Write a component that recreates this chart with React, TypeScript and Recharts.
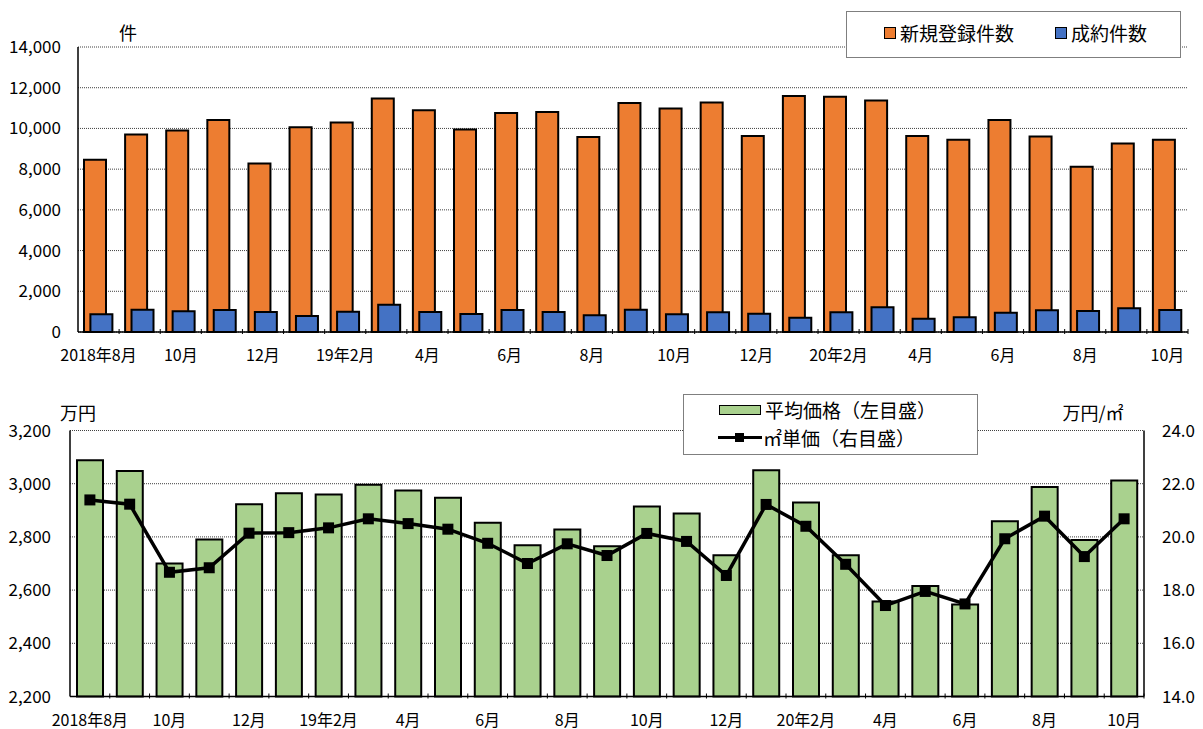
import { BarChart, Bar, ComposedChart, Line, XAxis, YAxis, CartesianGrid, Legend } from 'recharts';

const FONT = '"Noto Sans CJK JP", "Noto Sans", sans-serif';

const months = [
  '2018年8月', '9月', '10月', '11月', '12月', '19年1月', '19年2月', '3月', '4月', '5月', '6月', '7月', '8月',
  '9月', '10月', '11月', '12月', '20年1月', '20年2月', '3月', '4月', '5月', '6月', '7月', '8月', '9月', '10月',
];

// 新規登録件数
const newListings = [
  8456, 9699, 9895, 10418, 8276, 10058, 10287, 11465, 10893, 9944, 10762, 10811, 9584,
  11246, 10984, 11279, 9623, 11590, 11557, 11377, 9623, 9443, 10410, 9607, 8115, 9262, 9443,
];

// 成約件数
const contracts = [
  867, 1096, 1014, 1079, 981, 785, 998, 1341, 981, 883, 1079, 981, 818,
  1096, 867, 965, 900, 703, 965, 1210, 654, 720, 949, 1063, 1030, 1161, 1079,
];

// 平均価格（万円）
const avgPrice = [
  3088, 3048, 2700, 2790, 2923, 2964, 2959, 2996, 2974, 2947, 2853, 2769, 2828,
  2765, 2914, 2888, 2731, 3051, 2929, 2731, 2557, 2615, 2546, 2859, 2988, 2788, 3012,
];

// ㎡単価（万円/㎡）
const unitPrice = [
  21.39, 21.23, 18.67, 18.84, 20.14, 20.16, 20.34, 20.68, 20.5, 20.29, 19.76, 19.0, 19.74,
  19.3, 20.13, 19.83, 18.55, 21.22, 20.4, 18.97, 17.42, 17.95, 17.48, 19.93, 20.78, 19.26, 20.68,
];

const countTicks = [0, 2000, 4000, 6000, 8000, 10000, 12000, 14000];
const priceTicks = [2200, 2400, 2600, 2800, 3000, 3200];
const unitTicks = [14, 16, 18, 20, 22, 24];

const countData = months.map((m, i) => ({ month: m, newListings: newListings[i], contracts: contracts[i] }));
const priceData = months.map((m, i) => ({ month: m, avgPrice: avgPrice[i], unitPrice: unitPrice[i] }));

const ORANGE = '#ED7D31';
const BLUE = '#4472C4';
const GREEN = '#A9D18E';

function MonthTick(props: any) {
  const { x, y, payload, index, band, dy } = props;
  return (
    <g>
      <line x1={x + band / 2} x2={x + band / 2} y1={y - 5} y2={y} stroke="#000" strokeWidth={1} />
      {index % 2 === 0 && (
        <text x={x} y={y + dy} textAnchor="middle" fontSize={16} fontFamily={FONT} fill="#000">
          {payload.value}
        </text>
      )}
    </g>
  );
}

function AxisTitle(props: any) {
  const { tx, ty, text } = props;
  return (
    <text x={tx} y={ty} textAnchor="middle" fontSize={18} fontFamily={FONT} fill="#000">
      {text}
    </text>
  );
}

function SquareDot(props: any) {
  const { cx, cy, index } = props;
  if (cx == null || cy == null) return null;
  return <rect key={index} x={cx - 5.5} y={cy - 5.5} width={11} height={11} fill="#000" />;
}

const swatch = (left: number, top: number, w: number, h: number, color: string) => (
  <span
    style={{
      position: 'absolute', left, top, width: w, height: h, background: color,
      border: '1.5px solid #000', boxSizing: 'border-box',
    }}
  />
);

const legendText = (left: number, top: number, text: string) => (
  <span style={{ position: 'absolute', left, top, lineHeight: '26px', whiteSpace: 'nowrap' }}>{text}</span>
);

function CountLegend() {
  return (
    <div
      style={{
        position: 'relative', width: 335, height: 47, border: '1.5px solid #7f7f7f', background: '#fff',
        boxSizing: 'border-box', fontFamily: FONT, fontSize: 19, color: '#000',
      }}
    >
      {swatch(37, 15, 12, 12, ORANGE)}
      {legendText(53, 8, '新規登録件数')}
      {swatch(208, 15, 12, 12, BLUE)}
      {legendText(224, 8, '成約件数')}
    </div>
  );
}

function PriceLegend() {
  return (
    <div
      style={{
        position: 'relative', width: 295, height: 61, border: '1.5px solid #7f7f7f', background: '#fff',
        boxSizing: 'border-box', fontFamily: FONT, fontSize: 19, color: '#000',
      }}
    >
      {swatch(35, 10, 42, 10, GREEN)}
      {legendText(81, 2, '平均価格（左目盛）')}
      <span style={{ position: 'absolute', left: 34, top: 40.5, width: 44, height: 3.5, background: '#000' }} />
      <span style={{ position: 'absolute', left: 51, top: 38, width: 9, height: 9, background: '#000' }} />
      {legendText(79, 30, '㎡単価（右目盛）')}
    </div>
  );
}

export default function App() {
  const topBand = (1188 - 78) / months.length;
  const bottomBand = (1144 - 70) / months.length;
  return (
    <div style={{ position: 'absolute', left: 0, top: 0, width: 1203, height: 729, background: '#fff' }}>
      <div style={{ position: 'absolute', left: 0, top: 0 }}>
        <BarChart
          width={1203}
          height={365}
          data={countData}
          margin={{ top: 47, right: 15, left: 0, bottom: 0 }}
          barSize={22}
          barGap={-15.6}
        >
          <CartesianGrid vertical={false} stroke="#404040" strokeDasharray="1 1" />
          <XAxis
            dataKey="month"
            height={33}
            interval={0}
            tickSize={0}
            tickLine={false}
            axisLine={{ stroke: '#000', strokeWidth: 1.5 }}
            tick={<MonthTick band={topBand} dy={26.5} />}
          />
          <YAxis
            width={78}
            domain={[0, 14000]}
            ticks={countTicks}
            tickSize={0}
            tickMargin={17}
            tickLine={false}
            axisLine={{ stroke: '#000', strokeWidth: 1.5 }}
            tick={{ fontSize: 17, fill: '#000', fontFamily: FONT }}
            tickFormatter={(v: number) => v.toLocaleString('en-US')}
            label={<AxisTitle tx={128} ty={40} text="件" />}
          />
          <Legend
            layout="horizontal"
            verticalAlign="middle"
            align="center"
            content={() => <CountLegend />}
            wrapperStyle={{ left: 846, top: 11, width: 335, height: 47 }}
          />
          <Bar dataKey="newListings" name="新規登録件数" fill={ORANGE} stroke="#000" strokeWidth={2} isAnimationActive={false} />
          <Bar dataKey="contracts" name="成約件数" fill={BLUE} stroke="#000" strokeWidth={2} isAnimationActive={false} />
        </BarChart>
      </div>
      <div style={{ position: 'absolute', left: 0, top: 380 }}>
        <ComposedChart
          width={1203}
          height={349}
          data={priceData}
          margin={{ top: 50.5, right: 0, left: 0, bottom: 0 }}
          barSize={26}
        >
          <CartesianGrid vertical={false} yAxisId="left" stroke="#404040" strokeDasharray="1 1" />
          <XAxis
            dataKey="month"
            height={32.5}
            interval={0}
            tickSize={0}
            tickLine={false}
            axisLine={{ stroke: '#000', strokeWidth: 1.5 }}
            tick={<MonthTick band={bottomBand} dy={27} />}
          />
          <YAxis
            yAxisId="left"
            width={70}
            domain={[2200, 3200]}
            ticks={priceTicks}
            tickSize={0}
            tickMargin={19}
            tickLine={false}
            axisLine={{ stroke: '#000', strokeWidth: 1.5 }}
            tick={{ fontSize: 17, fill: '#000', fontFamily: FONT }}
            tickFormatter={(v: number) => v.toLocaleString('en-US')}
            label={<AxisTitle tx={78} ty={40} text="万円" />}
          />
          <YAxis
            yAxisId="right"
            orientation="right"
            width={59}
            domain={[14, 24]}
            ticks={unitTicks}
            tickSize={0}
            tickMargin={18}
            tickLine={false}
            axisLine={{ stroke: '#000', strokeWidth: 1.5 }}
            tick={{ fontSize: 17, fill: '#000', fontFamily: FONT }}
            tickFormatter={(v: number) => v.toFixed(1)}
            label={<AxisTitle tx={1093} ty={40} text="万円/㎡" />}
          />
          <Legend
            layout="horizontal"
            verticalAlign="middle"
            align="center"
            content={() => <PriceLegend />}
            wrapperStyle={{ left: 683, top: 14, width: 295, height: 61 }}
          />
          <Bar
            yAxisId="left"
            dataKey="avgPrice"
            name="平均価格（左目盛）"
            fill={GREEN}
            stroke="#000"
            strokeWidth={2}
            isAnimationActive={false}
          />
          <Line
            yAxisId="right"
            dataKey="unitPrice"
            name="㎡単価（右目盛）"
            type="linear"
            stroke="#000"
            strokeWidth={3.5}
            dot={(p: any) => <SquareDot key={p.index} {...p} />}
            activeDot={false}
            isAnimationActive={false}
          />
        </ComposedChart>
      </div>
    </div>
  );
}
